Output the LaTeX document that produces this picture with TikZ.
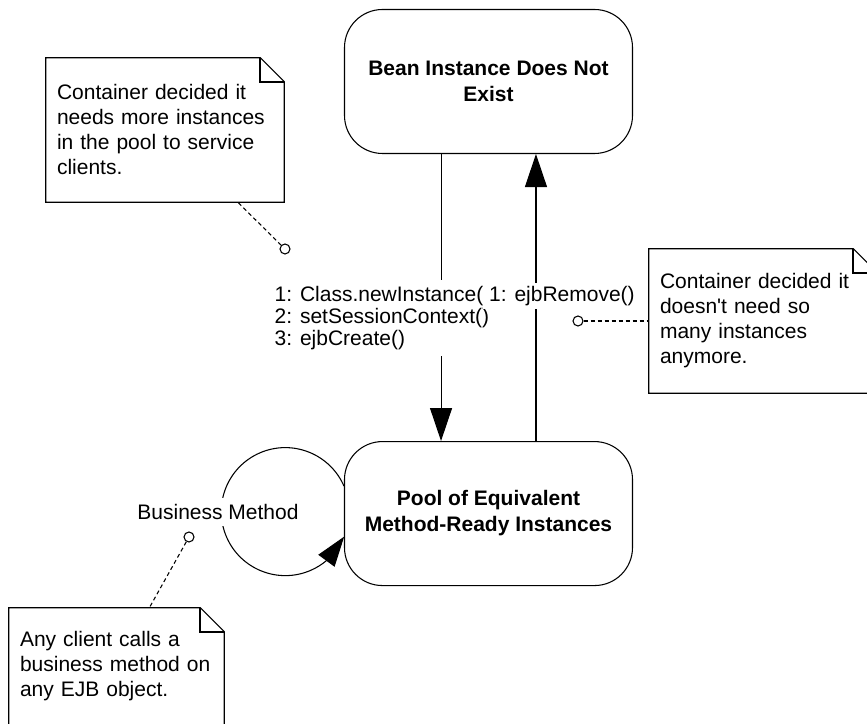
\documentclass[tikz,border=0pt]{standalone}
\usepackage{fontspec}
\setmainfont{Liberation Sans}
\usetikzlibrary{positioning, arrows.meta, bending}

\begin{document}
\begin{tikzpicture}[x=0.75pt, y=0.75pt,
		font=\fontsize{15.75pt}{16.5pt}\selectfont,
		statebox/.style={rectangle, rounded corners=28.5pt, draw, line width=0.8pt, minimum width=216pt, minimum height=108pt, align=center, font=\fontsize{15.75pt}{19.5pt}\selectfont\bfseries},
		notebox/.style={rectangle, align=left, inner xsep=8.25pt, inner ysep=0pt, font=\fontsize{15.75pt}{18.75pt}\selectfont},
		noteline/.style={line width=0.8pt, line join=miter},
		foldline/.style={line width=1.5pt, line join=miter},
		msg/.style={line width=0.8pt, -{Triangle[length=24.75pt, width=16.5pt]}},
		msglabel/.style={fill=white, align=left, inner xsep=4.5pt, inner ysep=4.5pt},
		anchordot/.style={circle, draw, fill=white, line width=0.8pt, minimum size=7.5pt, inner sep=0pt},
		notelink/.style={line width=0.8pt, dash pattern=on 3pt off 2.25pt}]
		\useasboundingbox (0,0) rectangle (867,724);
		% states
		\node[statebox] (bean) at (488.5,642.5) {Bean Instance Does Not\\Exist};
		\node[statebox, below=215.25pt of bean] (pool) {Pool of Equivalent\\Method-Ready Instances};
		% notes
		\node[notebox, text width=162pt, minimum height=108pt] (note1) at (165,594) {Container decided it\\needs more instances\\in the pool to service\\clients.};
		\node[notebox, text width=154.5pt, minimum height=108pt] (note2) at (763,403) {Container decided it\\doesn\textquotesingle t need so\\many instances\\anymore.};
		\node[notebox, text width=144.75pt, minimum height=87.75pt] (note3) at (116.5,57.5) {Any client calls a\\business method on\\any EJB object.};
		\draw[noteline] (note1.north west) -- ([xshift=-18pt]note1.north east) -- ([yshift=-18pt]note1.north east) -- (note1.south east) -- (note1.south west) -- cycle;
		\draw[foldline] ([xshift=-18pt]note1.north east) -- ([xshift=-18pt, yshift=-18pt]note1.north east) -- ([yshift=-18pt]note1.north east);
		\draw[noteline] (note2.north west) -- ([xshift=-18pt]note2.north east) -- ([yshift=-18pt]note2.north east) -- (note2.south east) -- (note2.south west) -- cycle;
		\draw[foldline] ([xshift=-18pt]note2.north east) -- ([xshift=-18pt, yshift=-18pt]note2.north east) -- ([yshift=-18pt]note2.north east);
		\draw[noteline] (note3.north west) -- ([xshift=-18pt]note3.north east) -- ([yshift=-18pt]note3.north east) -- (note3.south east) -- (note3.south west) -- cycle;
		\draw[foldline] ([xshift=-18pt]note3.north east) -- ([xshift=-18pt, yshift=-18pt]note3.north east) -- ([yshift=-18pt]note3.north east);
		% note anchors
		\node[anchordot] (dot1) at (285,475) {};
		\node[anchordot] (dot2) at (578,403) {};
		\node[anchordot] (dot3) at (189,187) {};
		\draw[notelink] (dot1) -- (note1);
		\draw[notelink] (dot2) -- (note2);
		\draw[notelink] (dot3) -- (note3);
		% transitions
		\draw[msg] ([xshift=-35.6pt]bean.south) -- node[msglabel, pos=0.571, xshift=-43.9pt] {1: Class.newInstance()\\2: setSessionContext()\\3: ejbCreate()} ([xshift=-35.6pt]pool.north);
		\draw[msg] ([xshift=35.6pt]pool.north) -- node[msglabel, inner ysep=2.25pt, pos=0.505, xshift=19.5pt] {1: ejbRemove()} ([xshift=35.6pt]bean.south);
		% self transition
		\draw[line width=0.8pt, -{Triangle[length=22.5pt, width=15pt, flex]}] ([yshift=20.6pt]pool.west) arc[start angle=23.5, end angle=337, radius=48pt];
		\node[msglabel] (bm) at (218,212) {Business Method};
	\end{tikzpicture}
\end{document}
